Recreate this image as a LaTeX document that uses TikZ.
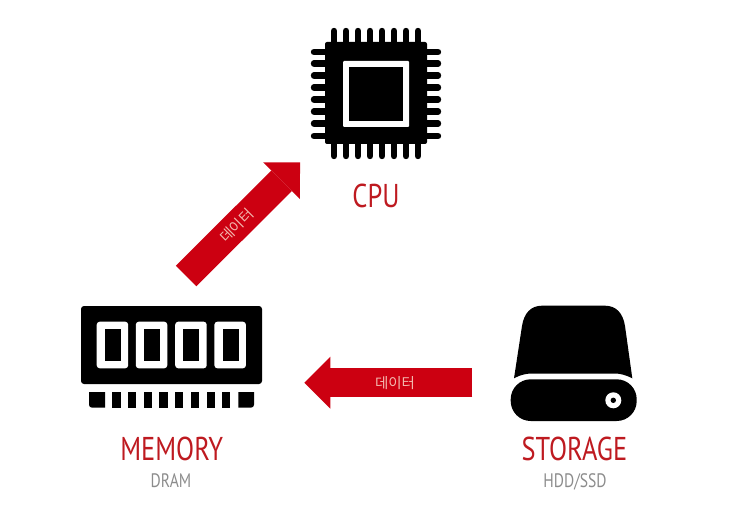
\documentclass[tikz,border=0pt]{standalone}
\usepackage{fontspec}
\usepackage{tikz}
\usetikzlibrary{positioning,calc,arrows.meta}
\newfontfamily\titlefont[FakeStretch=0.8]{PT Sans}
\newfontfamily\hangulfont{Noto Sans CJK KR}
\definecolor{datared}{HTML}{CC0011}
\definecolor{titlered}{HTML}{BE1A20}
\definecolor{subgrey}{HTML}{8C8C8C}
\definecolor{hangulpink}{HTML}{F2B8AE}

\begin{document}
\begin{tikzpicture}[
    x=1pt, y=-1pt,
    % Red device names under the icons
    titlelabel/.style={
        text=titlered,
        anchor=base,
        inner sep=0pt,
        font=\titlefont\fontsize{33}{33}\selectfont
    },
    % Grey device kinds below the names
    sublabel/.style={
        text=subgrey,
        anchor=base,
        inner sep=0pt,
        font=\titlefont\fontsize{19.5}{19.5}\selectfont
    },
    % Wide red arrows carrying the data
    dataarrow/.style={
        draw=datared,
        line width=29pt,
        -{Triangle[length=26pt,width=52pt,line width=0pt]}
    },
    datalabel/.style={
        text=hangulpink,
        inner sep=0pt,
        font=\hangulfont\fontsize{14.5}{14.5}\selectfont
    },
    % Round ended pins of the chip
    chippin/.style={
        draw=black,
        line width=6.4pt,
        line cap=round
    }
]
\useasboundingbox (0,0) rectangle (738,521);

% --- CPU: chip with pins on all four sides ---
\foreach \p in {334,346,358,370,382,394,406,418}{
    \draw[chippin] (\p,31) -- (\p,156);
}
\foreach \p in {52,63.5,75.5,87.5,99.5,111.5,123.5,136}{
    \draw[chippin] (314,\p) -- (438,\p);
}
\fill[black, rounded corners=2pt] (325,42) rectangle (427,144);
\fill[white, rounded corners=1pt] (343,61) rectangle (409,127);
\fill[black] (349,67) rectangle (403,121);
\node[titlelabel] (cpu) at (376,208) {CPU};

% --- MEMORY: module with four chips and a row of contacts ---
\fill[black, rounded corners=3pt] (81,306) rectangle (262,384);
\foreach \p in {96.7,135.8,175.2,214.4}{
    \fill[white, rounded corners=3pt] (\p,321.7) rectangle ++(31.5,46.6);
    \fill[black] ($(\p,329)+(8.2,0)$) rectangle ++(16,31.7);
}
\fill[black] (89,392) -- (105,392) -- (105,407.7) [rounded corners=3pt] -- (89,407.7) [sharp corners] -- (89,392) -- cycle;
\foreach \p in {112.3,128,143.7,159.4,175.1,190.8,206.5,222.2}{
    \fill[black] (\p,392) rectangle ++(8.2,15.7);
}
\fill[black] (238.3,392) -- (238.3,407.7) [rounded corners=3pt] -- (254,407.7) [sharp corners] -- (254,392) -- cycle;
\node[titlelabel] (memory) at (171.7,460) {MEMORY};
\node[sublabel] (dram) at (171,487) {DRAM};

% --- STORAGE: drive with a curved cover and a round lamp ---
\fill[black] (514,378.3) -- (522,326)
    .. controls (524,313) and (531,305.7) .. (542,305.7) -- (605,305.7)
    .. controls (616,305.7) and (623,313) .. (625,326) -- (632.3,378.3)
    .. controls (626,375) and (620,373.5) .. (615,373.5) -- (532,373.5)
    .. controls (526,373.5) and (520,375) .. (514,378.3) -- cycle;
\fill[black, rounded corners=20pt] (510.7,379.3) rectangle (636.7,421);
\fill[white] (613.3,400.3) circle (8);
\fill[black] (613.3,400.3) circle (2.7);
\node[titlelabel] (storage) at (574.5,460) {STORAGE};
\node[sublabel] (hddssd) at (575,487) {HDD/SSD};

% --- Data arrows between the devices ---
\coordinate (memtail) at (186.2,276);
\coordinate (cputip) at (300,162.3);
\coordinate (stotail) at (472.3,382.7);
\coordinate (memtip) at (304.3,382.7);
\draw[dataarrow] (memtail) -- (cputip) node[datalabel, pos=0.444, sloped] (datatocpu) {데이터};
\draw[dataarrow] (stotail) -- (memtip) node[datalabel, pos=0.46, sloped] (datatomem) {데이터};

\end{tikzpicture}
\end{document}
